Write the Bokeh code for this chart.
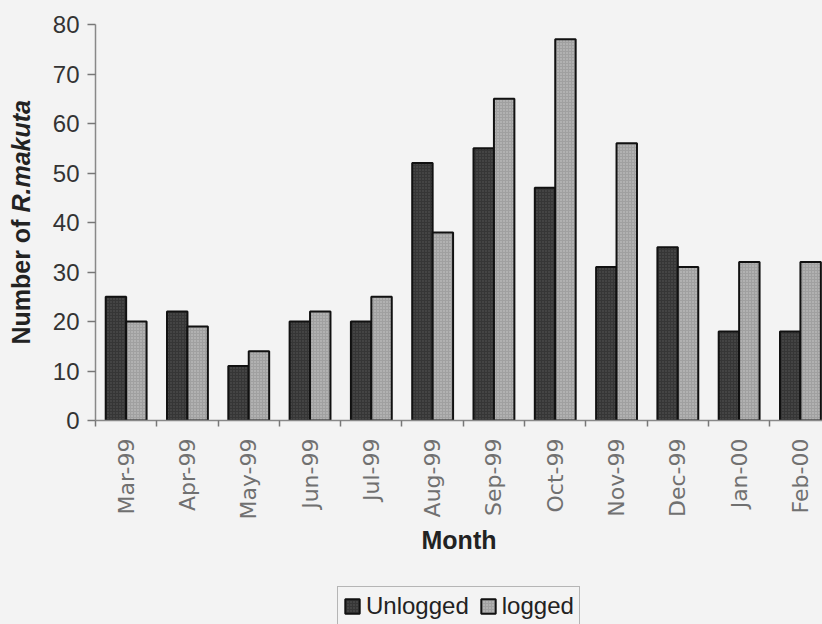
import numpy as np
from bokeh.plotting import figure
from bokeh.layouts import gridplot
from bokeh.models import Range1d, FixedTicker, Legend, LegendItem
from bokeh.embed import file_html
from bokeh.resources import INLINE
from bokeh.core.properties import value

months = ["Mar-99", "Apr-99", "May-99", "Jun-99", "Jul-99", "Aug-99",
          "Sep-99", "Oct-99", "Nov-99", "Dec-99", "Jan-00", "Feb-00"]
unlogged = [25, 22, 11, 20, 20, 52, 55, 47, 31, 35, 18, 18]
logged = [20, 19, 14, 22, 25, 38, 65, 77, 56, 31, 32, 32]
y_ticks = [0, 10, 20, 30, 40, 50, 60, 70, 80]
y_title_parts = ["Number of ", "R.makuta"]
series_names = ["Unlogged", "logged"]

BG = "#f3f3f3"
DARK = dict(fill_color="#363636", line_color="#111111", line_width=2,
            hatch_pattern="dot", hatch_color="#585858", hatch_scale=3, hatch_weight=1)
LIGHT = dict(fill_color="#a0a0a0", line_color="#111111", line_width=2,
             hatch_pattern="dot", hatch_color="#cacaca", hatch_scale=3, hatch_weight=1)

centers = np.arange(len(months)) + 0.5
bw = 1.0 / 3.0
yr = Range1d(0, 80)


def style(fig):
    fig.background_fill_color = BG
    fig.border_fill_color = BG
    fig.outline_line_color = None
    fig.xgrid.visible = False
    fig.ygrid.visible = False


# narrow figure holding the y-axis title (bold + bold italic)
t = figure(width=40, height=580, output_backend="svg", toolbar_location=None,
           x_range=Range1d(0, 40), y_range=yr,
           x_axis_location=None, y_axis_location=None,
           min_border_left=0, min_border_right=0, min_border_top=24,
           min_border_bottom=160)
style(t)
t.text(x=[20], y=[42], text=[y_title_parts[0]], angle=np.pi / 2,
       text_align="right", text_baseline="middle",
       text_font=value("Liberation Sans"), text_font_style="bold",
       text_font_size="25px", text_color="#222222")
t.text(x=[20], y=[42], text=[y_title_parts[1]], angle=np.pi / 2,
       text_align="left", text_baseline="middle",
       text_font=value("Liberation Sans"), text_font_style="bold italic",
       text_font_size="25px", text_color="#222222")

# main chart
p = figure(width=782, height=580, output_backend="svg", toolbar_location=None,
           x_range=Range1d(0, 11.86), y_range=yr,
           min_border_left=55, min_border_right=0, min_border_top=24,
           min_border_bottom=160)
style(p)
p.vbar(x=centers - bw / 2, top=unlogged, bottom=0, width=bw, **DARK)
p.vbar(x=centers + bw / 2, top=logged, bottom=0, width=bw, **LIGHT)

xa = p.xaxis[0]
xa.ticker = FixedTicker(ticks=[float(c) for c in centers],
                        minor_ticks=list(range(len(months) + 1)))
xa.major_label_overrides = {float(c): m for c, m in zip(centers, months)}
xa.major_label_orientation = np.pi / 2
xa.major_tick_out = 0
xa.major_tick_in = 0
xa.minor_tick_out = 6
xa.minor_tick_in = 0
xa.minor_tick_line_color = "#777777"
xa.minor_tick_line_width = 1.5
xa.axis_line_color = "#888888"
xa.axis_line_width = 1.5
xa.major_label_standoff = 12
xa.major_label_text_font = "DejaVu Sans"
xa.major_label_text_font_size = "22px"
xa.major_label_text_color = "#707070"
xa.axis_label = "Month"
xa.axis_label_text_font = "Liberation Sans"
xa.axis_label_text_font_style = "bold"
xa.axis_label_text_font_size = "25px"
xa.axis_label_text_color = "#222222"
xa.axis_label_standoff = 3

ya = p.yaxis[0]
ya.ticker = FixedTicker(ticks=y_ticks)
ya.major_tick_out = 8
ya.major_tick_in = 0
ya.major_tick_line_color = "#777777"
ya.major_tick_line_width = 1.5
ya.minor_tick_line_color = None
ya.axis_line_color = "#888888"
ya.axis_line_width = 1.5
ya.major_label_standoff = 8
ya.major_label_text_font = "Liberation Sans"
ya.major_label_text_font_size = "24px"
ya.major_label_text_color = "#333333"

# legend strip below the chart (swatch renderers are zero-height, off-range)
lg = figure(width=782, height=44, output_backend="svg", toolbar_location=None,
            x_range=Range1d(0, 1), y_range=Range1d(0, 1),
            x_axis_location=None, y_axis_location=None,
            min_border_left=55, min_border_right=0, min_border_top=0,
            min_border_bottom=0)
style(lg)
d1 = lg.vbar(x=[5], top=[0], bottom=[0], width=0.1, **DARK)
d2 = lg.vbar(x=[5], top=[0], bottom=[0], width=0.1, **LIGHT)
legend = Legend(items=[LegendItem(label=series_names[0], renderers=[d1]),
                       LegendItem(label=series_names[1], renderers=[d2])],
                location=(242, -2), orientation="horizontal",
                label_text_font="Liberation Sans", label_text_font_size="24px",
                label_text_color="#222222",
                glyph_width=18, glyph_height=18, spacing=10, padding=5,
                margin=0, label_standoff=5,
                border_line_color="#777777", border_line_width=1,
                background_fill_color=BG, background_fill_alpha=1.0)
lg.add_layout(legend)

grid = gridplot([[t, p], [None, lg]], toolbar_location=None, merge_tools=False)
grid.styles = {"background-color": BG}
open("out.html", "w").write(file_html(grid, INLINE))
